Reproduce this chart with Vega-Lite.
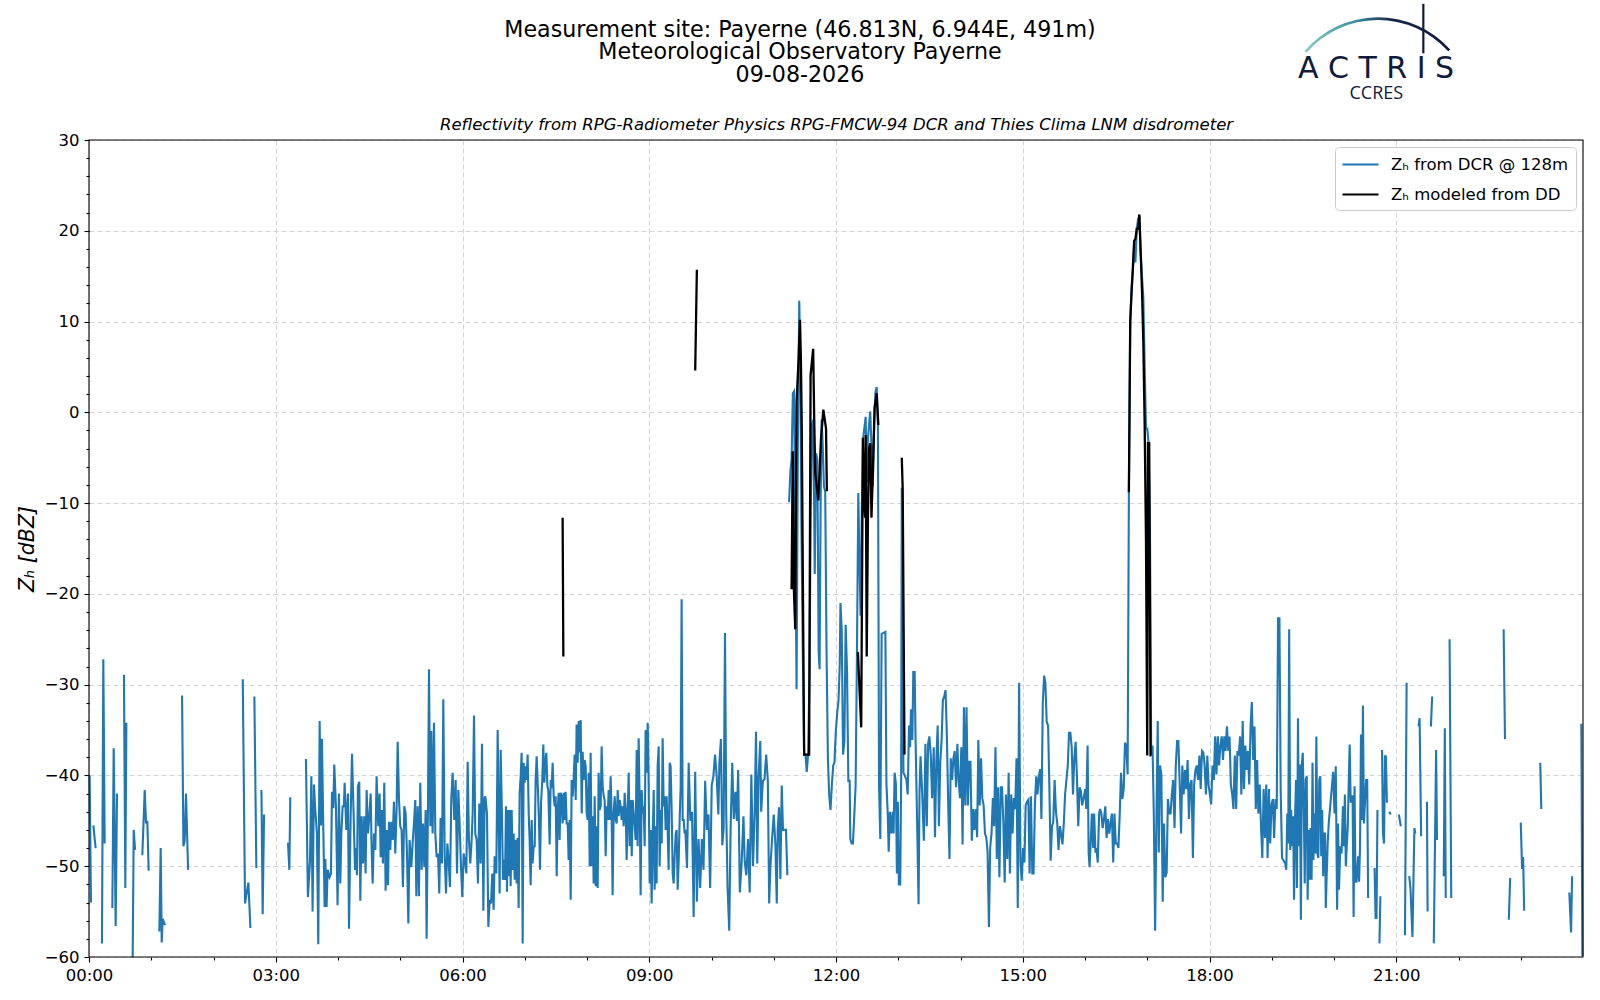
{
"$schema": "https://vega.github.io/schema/vega-lite/v6.json",
"autosize": {"type": "none"},
"width": 1494,
"height": 817,
"padding": {"left": 89, "top": 140, "right": 17, "bottom": 43},
"background": "white",
"config": {
 "font": "DejaVu Sans",
 "view": {"stroke": null},
 "axis": {"labelFont": "DejaVu Sans", "labelFontSize": 16.5, "labelColor": "black", "labelFlush": false, "tickColor": "black", "tickWidth": 1.1, "titleFont": "DejaVu Sans", "titleColor": "black", "titleFontWeight": "normal", "gridColor": "#d4d4d4", "gridDash": [5, 3], "gridWidth": 1},
 "legend": {"orient": "top-right", "offset": 7, "padding": 7, "strokeColor": "#cccccc", "fillColor": "white", "cornerRadius": 4, "labelFontSize": 16.5, "labelFont": "DejaVu Sans", "labelColor": "black", "labelLimit": 400, "symbolType": "M-2,0H2", "symbolSize": 324, "symbolStrokeWidth": 2.2, "symbolOffset": 8, "rowPadding": 11, "labelOffset": 20}
},
"datasets": {
 "dcr": [
{"m":0.6,"z":-40},{"m":1.9,"z":-54},{"m":2.5,"z":null},
{"m":4.2,"z":-45.5},{"m":6.4,"z":-48},{"m":7,"z":null},
{"m":12.5,"z":-58.5},{"m":13.8,"z":-27.2},{"m":15.1,"z":-47.5},{"m":16,"z":null},
{"m":22.5,"z":-54.6},{"m":23.8,"z":-37},{"m":25.7,"z":-56.6},{"m":27,"z":-42},{"m":28,"z":null},
{"m":33.7,"z":-28.9},{"m":35,"z":-52.4},{"m":36,"z":-34.2},{"m":37,"z":null},
{"m":42.1,"z":-60},{"m":43.1,"z":-46},{"m":44.4,"z":-48.2},{"m":45,"z":null},
{"m":51.4,"z":-48.8},{"m":53.7,"z":-41.6},{"m":55,"z":-45.3},{"m":56.2,"z":-45},{"m":57.5,"z":-50.5},{"m":58,"z":null},
{"m":67.8,"z":-57.2},{"m":69.1,"z":-48},{"m":70.1,"z":-58.4},{"m":71,"z":-55.8},{"m":73.3,"z":-56.5},{"m":74,"z":null},
{"m":89.7,"z":-31.2},{"m":91,"z":-47.8},{"m":92.2,"z":-47.2},{"m":93.5,"z":-42},{"m":95.5,"z":-50.4},{"m":96,"z":null},
{"m":148.2,"z":-29.4},{"m":150.4,"z":-54.1},{"m":153.6,"z":-51.8},{"m":155.6,"z":-56.8},{"m":156,"z":null},
{"m":159.4,"z":-31.3},{"m":161.3,"z":-50.2},{"m":162,"z":null},
{"m":166.2,"z":-41.6},{"m":167.4,"z":-55.3},{"m":168.7,"z":-44.3},{"m":169,"z":null},
{"m":191.8,"z":-47.4},{"m":193.1,"z":-50.4},{"m":194,"z":-42.4},{"m":195,"z":null},
{"m":209.1,"z":-38.2},{"m":211.0,"z":-53.4},{"m":213.0,"z":-49.5},{"m":214.3,"z":-40.1},{"m":215.5,"z":-55},{"m":216.8,"z":-41},{"m":218.1,"z":-43.8},{"m":219.7,"z":-46.4},{"m":221.0,"z":-58.6},{"m":222.3,"z":-34},{"m":223.6,"z":-45.5},{"m":224.5,"z":-36},{"m":225.8,"z":-45.6},{"m":227.1,"z":-54.5},{"m":227.8,"z":-49.2},{"m":229.0,"z":-54.5},{"m":230.0,"z":-50.4},{"m":231.9,"z":-51.2},{"m":233.2,"z":-50.8},{"m":234.2,"z":-41.8},{"m":235.5,"z":-43.6},{"m":236.4,"z":-38.8},{"m":238.0,"z":-43.4},{"m":239.6,"z":-54.3},{"m":240.9,"z":-42},{"m":242.2,"z":-51.9},{"m":243.2,"z":-46.4},{"m":244.5,"z":-43.4},{"m":245.7,"z":-43.4},{"m":246.4,"z":-40.8},{"m":248.0,"z":-46},{"m":249.6,"z":-42},{"m":250.6,"z":-56.9},{"m":252.2,"z":-44.5},{"m":253.5,"z":-37.6},{"m":255.1,"z":-44.5},{"m":256.4,"z":-50.4},{"m":257.3,"z":-48},{"m":258.3,"z":-51},{"m":259.2,"z":-41.2},{"m":260.5,"z":-40.7},{"m":261.5,"z":-53.8},{"m":262.8,"z":-44.5},{"m":264.1,"z":-49.7},{"m":265.3,"z":-44.5},{"m":266.6,"z":-50.8},{"m":267.6,"z":-41.6},{"m":268.9,"z":-46.4},{"m":270.2,"z":-44.5},{"m":271.5,"z":-42},{"m":272.4,"z":-48},{"m":273.4,"z":-51.9},{"m":274.7,"z":-46.4},{"m":276.0,"z":-48.2},{"m":277.2,"z":-40.1},{"m":278.8,"z":-45.6},{"m":280.1,"z":-42},{"m":281.1,"z":-49},{"m":282.1,"z":-43.8},{"m":283.3,"z":-49.7},{"m":284.6,"z":-40.8},{"m":285.9,"z":-52.7},{"m":287.2,"z":-46},{"m":288.2,"z":-52.1},{"m":289.1,"z":-45.1},{"m":290.4,"z":-48.2},{"m":291.4,"z":-45.1},{"m":292.7,"z":-47.1},{"m":293.9,"z":-42.9},{"m":295.2,"z":-48.6},{"m":296.5,"z":-43.6},{"m":297.5,"z":-36.3},{"m":298.8,"z":-42.7},{"m":300.0,"z":-45.6},{"m":301.3,"z":-46},{"m":302.6,"z":-52.3},{"m":303.9,"z":-43.4},{"m":305.2,"z":-44.2},{"m":306.5,"z":-48.6},{"m":307.8,"z":-56.3},{"m":309.0,"z":-47.1},{"m":310.7,"z":-50.1},{"m":311.9,"z":-47.5},{"m":313.2,"z":-45.3},{"m":314.5,"z":-42.7},{"m":315.5,"z":-53.3},{"m":316.8,"z":-43.4},{"m":318.0,"z":-53.3},{"m":319.3,"z":-40.8},{"m":320.6,"z":-50.4},{"m":321.9,"z":-45.3},{"m":323.2,"z":-50.1},{"m":324.5,"z":-43.8},{"m":325.4,"z":-58},{"m":326.7,"z":-43.8},{"m":327.7,"z":-28.3},{"m":329.0,"z":-45.6},{"m":329.9,"z":-35.1},{"m":331.2,"z":-46.4},{"m":332.5,"z":-34.2},{"m":333.8,"z":-46.4},{"m":335.1,"z":-49},{"m":336.4,"z":-48.6},{"m":337.6,"z":-53},{"m":338.9,"z":-44.7},{"m":340.2,"z":-49.7},{"m":341.5,"z":-31.6},{"m":342.8,"z":-48.6},{"m":344.1,"z":-53},{"m":345.4,"z":-47.5},{"m":346.6,"z":-49.3},{"m":347.9,"z":-52.3},{"m":349.2,"z":-42.5},{"m":350.5,"z":-39.7},{"m":352.1,"z":-44.9},{"m":353.4,"z":-40.5},{"m":354.7,"z":-50.8},{"m":356.0,"z":-41.6},{"m":357.2,"z":-45.3},{"m":358.5,"z":-49.9},{"m":359.8,"z":-53.4},{"m":361.1,"z":-48.6},{"m":362.4,"z":-49.5},{"m":363.7,"z":-50.8},{"m":365.0,"z":-38.5},{"m":366.2,"z":-47.1},{"m":367.5,"z":-49.7},{"m":368.8,"z":-47.1},{"m":369.8,"z":-44.2},{"m":371.1,"z":-33.4},{"m":372.3,"z":-46.4},{"m":373.6,"z":-47.1},{"m":374.9,"z":-51.9},{"m":376.2,"z":-43.1},{"m":377.5,"z":-49.7},{"m":378.8,"z":-36.5},{"m":380.1,"z":-54.9},{"m":381.3,"z":-42.5},
{"m":382.0,"z":-42.3},{"m":383.6,"z":-44.2},{"m":384.9,"z":-56.7},{"m":386.2,"z":-53.7},{"m":387.5,"z":-54.1},{"m":388.7,"z":-50.8},{"m":390.0,"z":-54.8},{"m":391.0,"z":-48.9},{"m":392.6,"z":-50.8},{"m":393.9,"z":-35},{"m":394.9,"z":-44.9},{"m":395.8,"z":-53},{"m":396.8,"z":-37.2},{"m":398.1,"z":-44.9},{"m":399.0,"z":-51.5},{"m":400.0,"z":-49.3},{"m":401.0,"z":-51.5},{"m":401.9,"z":-43.4},{"m":402.9,"z":-52.8},{"m":403.5,"z":-43.8},{"m":404.5,"z":-51.1},{"m":405.5,"z":-43.8},{"m":406.4,"z":-52.2},{"m":407.4,"z":-43.8},{"m":408.3,"z":-50.4},{"m":409.3,"z":-46.4},{"m":410.3,"z":-51.5},{"m":411.2,"z":-47.1},{"m":412.2,"z":-51.9},{"m":413.2,"z":-46.9},{"m":414.1,"z":-54.6},{"m":415.1,"z":-41.9},{"m":416.1,"z":-40.1},{"m":417.0,"z":-37.5},{"m":418.0,"z":-58.5},{"m":418.9,"z":-38.6},{"m":419.9,"z":-40.8},{"m":420.9,"z":-39},{"m":421.8,"z":-40.5},{"m":422.8,"z":-37.7},{"m":423.8,"z":-44.2},{"m":424.7,"z":-47.1},{"m":425.7,"z":-52.1},{"m":426.7,"z":-44.9},{"m":427.6,"z":-49.7},{"m":428.6,"z":-47.8},{"m":429.6,"z":-47.8},{"m":430.5,"z":-40.5},{"m":431.5,"z":-37.9},{"m":432.8,"z":-41.9},{"m":433.7,"z":-44.9},{"m":434.7,"z":-50.4},{"m":435.7,"z":-43},{"m":436.9,"z":-40.5},{"m":437.9,"z":-36.6},{"m":438.9,"z":-40.8},{"m":439.8,"z":-38.6},{"m":440.8,"z":-37.5},{"m":441.8,"z":-41.2},{"m":442.7,"z":-41.6},{"m":444.0,"z":-47.6},{"m":445.0,"z":-40.5},{"m":445.9,"z":-41.4},{"m":446.9,"z":-38.6},{"m":447.9,"z":-42.3},{"m":448.8,"z":-43.4},{"m":449.8,"z":-42.3},{"m":450.8,"z":-51.1},{"m":451.7,"z":-43.8},{"m":452.7,"z":-41.9},{"m":453.6,"z":-47.1},{"m":454.6,"z":-41.9},{"m":455.6,"z":-42.3},{"m":456.5,"z":-45.3},{"m":457.5,"z":-41.9},{"m":458.5,"z":-44.9},{"m":459.4,"z":-41.8},{"m":460.4,"z":-45.3},{"m":461.4,"z":-45.3},{"m":462.3,"z":-49.3},{"m":463.3,"z":-44.9},{"m":464.3,"z":-53.7},{"m":465.2,"z":-40.5},{"m":466.2,"z":-42.3},{"m":467.1,"z":-40.5},{"m":468.1,"z":-37.7},{"m":469.1,"z":-42.7},{"m":470.0,"z":-34.4},{"m":471.0,"z":-38.6},{"m":472.0,"z":-34},{"m":472.9,"z":-37.5},{"m":473.9,"z":-33.9},{"m":474.9,"z":-44.2},{"m":475.8,"z":-37.4},{"m":476.8,"z":-40.5},{"m":477.7,"z":-38.3},{"m":478.7,"z":-39},{"m":479.7,"z":-44.2},{"m":480.6,"z":-44.9},{"m":481.6,"z":-39.7},{"m":482.6,"z":-50},{"m":483.5,"z":-37.5},{"m":484.5,"z":-50},{"m":485.5,"z":-44.5},{"m":486.4,"z":-51.9},{"m":487.4,"z":-42.3},{"m":488.4,"z":-52.2},{"m":489.3,"z":-45.6},{"m":490.3,"z":-52.4},{"m":491.2,"z":-39.7},{"m":492.2,"z":-43.8},{"m":493.2,"z":-43.4},{"m":494.1,"z":-36.8},{"m":495.1,"z":-41.2},{"m":496.1,"z":-42.3},{"m":497.0,"z":-42.7},{"m":498.0,"z":-48.9},{"m":499.0,"z":-43.4},{"m":499.9,"z":-44.9},{"m":500.9,"z":-41.6},{"m":501.8,"z":-44.9},{"m":502.8,"z":-40.1},{"m":503.8,"z":-44.9},{"m":504.7,"z":-53.2},{"m":505.7,"z":-44.2},{"m":506.7,"z":-42.3},{"m":507.6,"z":-44.9},{"m":508.6,"z":-45.3},{"m":509.6,"z":-41.6},{"m":510.5,"z":-44.5},{"m":511.5,"z":-42.7},{"m":512.4,"z":-43.4},{"m":513.4,"z":-44.9},{"m":514.4,"z":-43.4},{"m":515.3,"z":-45.6},{"m":516.3,"z":-41.9},{"m":517.3,"z":-43.8},{"m":518.2,"z":-49.3},{"m":519.2,"z":-44.2},{"m":520.2,"z":-39.7},{"m":521.1,"z":-47.8},{"m":522.1,"z":-42.7},{"m":523.1,"z":-48.9},{"m":524.0,"z":-42.7},{"m":525.0,"z":-44.2},{"m":525.9,"z":-45.6},{"m":526.9,"z":-47.1},{"m":527.9,"z":-37.2},{"m":528.8,"z":-47.8},{"m":529.8,"z":-35.9},{"m":530.8,"z":-43.4},{"m":531.7,"z":-53.2},{"m":532.7,"z":-41.6},{"m":533.7,"z":-44.2},{"m":534.6,"z":-43.4},{"m":535.6,"z":-47.8},{"m":536.5,"z":-35},{"m":537.5,"z":-39.7},{"m":538.5,"z":-34.2},{"m":539.4,"z":-40.5},{"m":540.4,"z":-51.9},{"m":541.4,"z":-46},{"m":542.3,"z":-54.1},{"m":543.3,"z":-47.1},{"m":544.3,"z":-41.6},{"m":545.2,"z":-52.6},{"m":546.2,"z":-45.6},{"m":547.1,"z":-51.9},{"m":548.1,"z":-39},{"m":549.1,"z":-36.8},{"m":550.0,"z":-50},{"m":551.0,"z":-43.8},{"m":552.0,"z":-47.5},{"m":552.9,"z":-35.9},{"m":553.9,"z":-43.4},{"m":554.9,"z":-42.3},{"m":555.8,"z":-46},{"m":556.8,"z":-42.3},{"m":557.8,"z":-46.4},{"m":558.7,"z":-50.4},{"m":559.7,"z":-38.6},{"m":560.6,"z":-39},{"m":561.6,"z":-43.8},{"m":562.6,"z":-50.8},{"m":563.5,"z":-51.9},{"m":564.5,"z":-48.9},{"m":565.5,"z":-46.4},{"m":566.4,"z":-46},{"m":567.4,"z":-52.6},{"m":568.4,"z":-49.3},{"m":569.3,"z":-44.9},{"m":570.3,"z":-41.2},{"m":571.2,"z":-20.6},{"m":572.2,"z":-44.9},{"m":573.2,"z":-44.9},{"m":574.1,"z":-46.4},
{"m":574.8,"z":-46},{"m":576.4,"z":-50.2},{"m":578.0,"z":-38.6},{"m":579.6,"z":-45},{"m":581.2,"z":-44},{"m":582.8,"z":-55.6},{"m":584.3,"z":-39.6},{"m":585.9,"z":-53.9},{"m":587.5,"z":-47},{"m":589.1,"z":-52.4},{"m":590.7,"z":-47},{"m":592.3,"z":-50.4},{"m":593.9,"z":-40.6},{"m":595.5,"z":-46},{"m":597.1,"z":-44.3},{"m":598.7,"z":-52.4},{"m":600.2,"z":-41.1},{"m":601.8,"z":-40.1},{"m":603.4,"z":-37.7},{"m":605.0,"z":-40.1},{"m":606.6,"z":-44.3},{"m":607.6,"z":-38.6},{"m":609.1,"z":-36},{"m":610.4,"z":-47.7},{"m":611.7,"z":-45.8},{"m":613.0,"z":-24.3},{"m":614.2,"z":-44},{"m":615.5,"z":-52.4},{"m":617.1,"z":-57.1},{"m":618.4,"z":-46},{"m":620.0,"z":-38.6},{"m":621.5,"z":-44.8},{"m":623.1,"z":-41.8},{"m":624.4,"z":-45},{"m":625.7,"z":-39.4},{"m":627.3,"z":-52.9},{"m":628.9,"z":-50},{"m":630.8,"z":-44.5},{"m":632.0,"z":-49.5},{"m":633.6,"z":-51},{"m":635.2,"z":-47},{"m":636.8,"z":-52.9},{"m":638.4,"z":-39.9},{"m":640.0,"z":-50},{"m":641.6,"z":-44},{"m":642.9,"z":-35.2},{"m":644.1,"z":-49.7},{"m":645.4,"z":-40.1},{"m":647.0,"z":-36.2},{"m":647.9,"z":-44},{"m":649.5,"z":-40.6},{"m":651.1,"z":-40.4},{"m":652.7,"z":-37.7},{"m":654.3,"z":-40.6},{"m":655.6,"z":-54.1},{"m":656.8,"z":-50},{"m":658.4,"z":-47},{"m":660.0,"z":-44.3},{"m":661.6,"z":-47.7},{"m":662.9,"z":-54.1},{"m":663.8,"z":-46},{"m":665.1,"z":-43.5},{"m":666.4,"z":-51.4},{"m":667.7,"z":-41.1},{"m":668.9,"z":-46},{"m":670.2,"z":-46},{"m":671.8,"z":-46},{"m":673.1,"z":-51},{"m":673.8,"z":null},
{"m":674.8,"z":-9.9},{"m":676.0,"z":-6.5},{"m":677.2,"z":-5.2},{"m":678.4,"z":2.1},{"m":679.5,"z":2.3},{"m":680.7,"z":-11.6},{"m":682.0,"z":-30.5},{"m":683.2,"z":-3.8},{"m":684.6,"z":12.3},{"m":685.6,"z":5.1},{"m":686.7,"z":-12.6},{"m":688.0,"z":-26.4},{"m":689.3,"z":-37.7},{"m":690.6,"z":-37.7},{"m":691.8,"z":-39.6},{"m":693.1,"z":-37.7},{"m":694.4,"z":-29.3},{"m":695.6,"z":-11.6},{"m":696.9,"z":-1.3},{"m":698.2,"z":-0.8},{"m":699.5,"z":-17.8},{"m":700.7,"z":-4.5},{"m":702.0,"z":-5.2},{"m":703.3,"z":-26.4},{"m":704.2,"z":-28.3},{"m":705.2,"z":-9.7},{"m":706.1,"z":-0.8},{"m":707.1,"z":-3.3},{"m":708.4,"z":-8.2},{"m":709.6,"z":-8.7},{"m":710.9,"z":-26.4},{"m":712.2,"z":-38.2},{"m":713.4,"z":-42.1},{"m":714.7,"z":-43.8},{"m":716.0,"z":-41.1},{"m":717.3,"z":-38.9},{"m":718.5,"z":-38.6},{"m":719.8,"z":-35.2},{"m":721.1,"z":-33.2},{"m":722.4,"z":-31.8},{"m":723.6,"z":-27.8},{"m":724.3,"z":-21},{"m":725.5,"z":-23.9},{"m":726.8,"z":-37.7},{"m":728.1,"z":-36.2},{"m":729.3,"z":-23.4},{"m":730.6,"z":-28.3},{"m":731.9,"z":-40.6},{"m":733.2,"z":-40.6},{"m":733.8,"z":-47},{"m":735.1,"z":-47.5},{"m":736.3,"z":-47.5},{"m":737.6,"z":-44.5},{"m":738.9,"z":-41.1},{"m":740.2,"z":-26.4},{"m":741.5,"z":-8.9},{"m":742.6,"z":-16.5},{"m":743.7,"z":-22.4},{"m":744.9,"z":-10.6},{"m":746.2,"z":-2.8},{"m":748.6,"z":-0.5},{"m":749.6,"z":-7.7},{"m":750.8,"z":-2.8},{"m":753.0,"z":0.1},{"m":754.2,"z":-3.8},{"m":755.5,"z":-8.2},{"m":756.8,"z":-1},{"m":758.0,"z":2.2},{"m":759.2,"z":2.8},{"m":760.4,"z":-1.3},{"m":761.5,"z":-41.1},{"m":762.7,"z":-47},{"m":764.0,"z":-24.4},
{"m":767.6,"z":-24.2},{"m":768.6,"z":-40.9},{"m":769.8,"z":-44},{"m":770.8,"z":-48.4},{"m":772.0,"z":-44},{"m":773.3,"z":-46.4},{"m":774.6,"z":-44},{"m":775.5,"z":-46.4},{"m":776.5,"z":-39.7},{"m":777.7,"z":-40.9},{"m":778.7,"z":-50.8},{"m":779.6,"z":-42.9},{"m":780.6,"z":-52},{"m":781.9,"z":-52},{"m":782.8,"z":-40.1},{"m":783.4,"z":-8.3},{"m":785.0,"z":-39.7},{"m":786.6,"z":-40.1},{"m":787.9,"z":-40.5},{"m":789.1,"z":-42.1},{"m":790.4,"z":-34.5},{"m":791.4,"z":-36.9},{"m":792.3,"z":-32.7},{"m":793.6,"z":-36.1},{"m":794.5,"z":-28.6},{"m":795.8,"z":-28.6},{"m":796.7,"z":-36.1},{"m":798.0,"z":-44},{"m":799.6,"z":-54.2},{"m":800.5,"z":-41.7},{"m":801.5,"z":-37.9},{"m":803.1,"z":-42.1},{"m":804.7,"z":-47.2},{"m":806.2,"z":-36.5},{"m":807.5,"z":-45.6},{"m":808.8,"z":-36.5},{"m":810.0,"z":-35.7},{"m":811.3,"z":-37.7},{"m":812.6,"z":-42.5},{"m":814.2,"z":-36.9},{"m":815.4,"z":-46.8},{"m":816.7,"z":-38.5},{"m":818.0,"z":-34.5},{"m":819.2,"z":-45.6},{"m":820.5,"z":-38.5},{"m":821.8,"z":-36.1},{"m":823.0,"z":-31.7},{"m":824.3,"z":-31.3},{"m":825.6,"z":-30.6},{"m":826.8,"z":-35.3},{"m":828.1,"z":-42.9},{"m":829.4,"z":-49.2},{"m":830.6,"z":-38.1},{"m":831.9,"z":-40.5},{"m":833.2,"z":-38.1},{"m":834.4,"z":-37.3},{"m":835.7,"z":-41.3},{"m":837.0,"z":-36.5},{"m":838.2,"z":-40.5},{"m":839.5,"z":-42.5},{"m":840.8,"z":-36.9},{"m":842.0,"z":-47.6},{"m":843.3,"z":-32.5},{"m":844.6,"z":-43.3},{"m":845.8,"z":-32.5},{"m":847.1,"z":-43.3},{"m":848.4,"z":-38.5},{"m":849.6,"z":-38.5},{"m":850.9,"z":-47.2},{"m":852.2,"z":-43.7},{"m":853.4,"z":-46},{"m":854.7,"z":-43.7},{"m":856.0,"z":-46.8},{"m":857.2,"z":-36.1},{"m":858.5,"z":-43.3},{"m":859.8,"z":-38.1},{"m":861.0,"z":-42.5},{"m":862.3,"z":-43.3},{"m":863.6,"z":-46.4},{"m":864.8,"z":-46.8},{"m":866.1,"z":-48.4},{"m":867.4,"z":-56.7},{"m":868.6,"z":-48},{"m":869.9,"z":-46.4},{"m":871.2,"z":-42.5},{"m":872.4,"z":-45.6},{"m":873.7,"z":-36.9},{"m":875.0,"z":-49.2},{"m":876.2,"z":-41.3},{"m":877.5,"z":-51.2},{"m":878.8,"z":-41.3},{"m":880.0,"z":-41.3},{"m":881.3,"z":-45.2},{"m":882.6,"z":-51.8},{"m":883.8,"z":-42.1},{"m":885.1,"z":-49.2},{"m":886.4,"z":-39.7},{"m":887.6,"z":-50.8},{"m":888.9,"z":-42.1},{"m":890.2,"z":-46.4},{"m":891.4,"z":-42.5},{"m":892.7,"z":-43.7},{"m":894.0,"z":-38.1},{"m":895.2,"z":-54.6},{"m":896.5,"z":-29.8},{"m":897.8,"z":-49.6},{"m":899.0,"z":-51.6},{"m":900.3,"z":-48},{"m":901.6,"z":-49.6},{"m":902.8,"z":-43.3},{"m":904.1,"z":-42.9},{"m":905.4,"z":-42.7},{"m":906.6,"z":-50.8},{"m":907.9,"z":-42.3},{"m":909.2,"z":-50.8},{"m":910.4,"z":-50.8},{"m":911.7,"z":-43.3},{"m":913.0,"z":-40.1},{"m":914.2,"z":-42.1},{"m":915.5,"z":-40.1},{"m":916.8,"z":-39.3},{"m":918.0,"z":-44.8},{"m":919.3,"z":-32.1},{"m":920.6,"z":-29},{"m":921.8,"z":-29.8},{"m":923.1,"z":-34.1},{"m":924.4,"z":-34.5},{"m":925.6,"z":-40.9},{"m":926.9,"z":-49.4},{"m":928.2,"z":-45.6},{"m":929.4,"z":-45.2},{"m":930.7,"z":-40.5},{"m":932.0,"z":-44},{"m":933.2,"z":-45.2},{"m":934.5,"z":-48.2},{"m":935.8,"z":-45.6},{"m":937.0,"z":-46.4},{"m":938.3,"z":-47.6},{"m":939.6,"z":-45.2},{"m":940.8,"z":-42.1},{"m":942.1,"z":-40.5},{"m":943.4,"z":-38.9},{"m":944.6,"z":-35.3},{"m":945.9,"z":-35.3},{"m":947.2,"z":-36.9},{"m":948.4,"z":-42.1},{"m":949.7,"z":-38.1},{"m":951.0,"z":-36.3},{"m":952.2,"z":-40.1},{"m":953.5,"z":-45.6},{"m":954.8,"z":-41.3},{"m":956.0,"z":-41.7},{"m":957.3,"z":-43.3},
{"m":960.3,"z":-41.5},{"m":961.2,"z":-43.7},{"m":962.5,"z":-36.7},{"m":963.5,"z":-48.5},{"m":964.4,"z":-50.1},{"m":965.7,"z":-46.9},{"m":966.6,"z":-44.2},{"m":967.9,"z":-48},{"m":968.8,"z":-44.2},{"m":970.1,"z":-48.5},{"m":971.0,"z":-48},{"m":972.3,"z":-49.6},{"m":973.6,"z":-44.2},{"m":974.5,"z":-43.7},{"m":975.8,"z":-44.2},{"m":977.0,"z":-45.8},{"m":978.3,"z":-44.8},{"m":979.6,"z":-43.4},{"m":980.8,"z":-46.9},{"m":982.1,"z":-44.8},{"m":983.4,"z":-46.4},{"m":984.6,"z":-45.3},{"m":985.9,"z":-44.2},{"m":987.2,"z":-49.6},{"m":988.4,"z":-44.2},{"m":989.7,"z":-47.5},{"m":991.0,"z":-47.5},{"m":992.2,"z":-48},{"m":993.5,"z":-44.2},{"m":994.7,"z":-39.7},{"m":996.0,"z":-42.6},{"m":997.3,"z":-41.5},{"m":998.5,"z":-36.4},{"m":999.8,"z":-36.7},{"m":1001.1,"z":-39.9},{"m":1002.3,"z":-8.8},{"m":1003.6,"z":10},{"m":1004.9,"z":13.8},{"m":1006.1,"z":15.4},{"m":1007.4,"z":18.6},{"m":1008.6,"z":16.5},{"m":1009.9,"z":20.2},{"m":1011.2,"z":21.3},{"m":1012.4,"z":21.6},{"m":1013.7,"z":17.5},{"m":1015.0,"z":14.8},{"m":1016.2,"z":12.7},{"m":1017.5,"z":5.2},{"m":1018.8,"z":-1.8},{"m":1020.0,"z":-1.8},{"m":1021.3,"z":-3.4},{"m":1022.6,"z":-12},{"m":1023.8,"z":-37.8},{"m":1025.1,"z":-36.7},{"m":1026.3,"z":-44.2},{"m":1027.6,"z":-57.1},{"m":1028.9,"z":-44.2},{"m":1030.1,"z":-34},{"m":1031.1,"z":-48.5},{"m":1032.3,"z":-38.9},{"m":1033.6,"z":-39.9},{"m":1034.9,"z":-53.9},{"m":1036.1,"z":-45.3},{"m":1037.4,"z":-51.2},{"m":1038.7,"z":-50.7},{"m":1039.9,"z":-42.6},{"m":1041.2,"z":-44.2},{"m":1042.5,"z":-44.2},{"m":1043.7,"z":-42.1},{"m":1045.0,"z":-40.5},{"m":1046.3,"z":-45.8},{"m":1047.5,"z":-38.9},{"m":1048.8,"z":-36.2},{"m":1050.0,"z":-36.2},{"m":1051.3,"z":-41},{"m":1052.6,"z":-46.4},{"m":1053.8,"z":-38.9},{"m":1055.1,"z":-42.1},{"m":1056.4,"z":-39.4},{"m":1057.6,"z":-41.5},{"m":1058.9,"z":-38.3},{"m":1060.2,"z":-44.8},{"m":1061.4,"z":-41},{"m":1062.7,"z":-40.5},{"m":1064.0,"z":-49.1},{"m":1065.2,"z":-41},{"m":1066.5,"z":-39.4},{"m":1067.7,"z":-38.9},{"m":1069.0,"z":-40.5},{"m":1070.3,"z":-37.8},{"m":1071.5,"z":-41.5},{"m":1072.8,"z":-37.3},{"m":1074.1,"z":-37.5},{"m":1075.3,"z":-38.9},{"m":1076.6,"z":-42.1},{"m":1077.9,"z":-37.8},{"m":1079.1,"z":-41},{"m":1080.4,"z":-42.1},{"m":1081.6,"z":-43.2},{"m":1082.9,"z":-38.9},{"m":1084.2,"z":-40.5},{"m":1085.4,"z":-35.7},{"m":1086.7,"z":-39.9},{"m":1088.0,"z":-35.7},{"m":1089.2,"z":-38.9},{"m":1090.5,"z":-36.7},{"m":1091.8,"z":-35.7},{"m":1093.0,"z":-38.3},{"m":1094.3,"z":-35.7},{"m":1095.5,"z":-37.3},{"m":1096.8,"z":-34.6},{"m":1098.1,"z":-37.3},{"m":1099.3,"z":-35.7},{"m":1100.6,"z":-41},{"m":1101.9,"z":-42.1},{"m":1103.1,"z":-43.7},{"m":1104.4,"z":-37.8},{"m":1105.7,"z":-43.7},{"m":1106.9,"z":-37.3},{"m":1108.2,"z":-37.8},{"m":1109.5,"z":-35.7},{"m":1110.7,"z":-42.1},{"m":1112.0,"z":-34},{"m":1113.2,"z":-41.5},{"m":1114.5,"z":-36.7},{"m":1115.8,"z":-39.4},{"m":1117.0,"z":-37.3},{"m":1118.3,"z":-41},{"m":1119.6,"z":-34.6},{"m":1120.8,"z":-31.9},{"m":1122.1,"z":-38.3},{"m":1123.4,"z":-34.6},{"m":1124.6,"z":-43.7},{"m":1125.9,"z":-38.3},{"m":1127.1,"z":-44.2},{"m":1128.4,"z":-41},{"m":1129.7,"z":-45.8},{"m":1130.9,"z":-49.1},{"m":1132.2,"z":-41.5},{"m":1133.5,"z":-46.9},{"m":1134.7,"z":-41},{"m":1136.0,"z":-49.1},{"m":1137.3,"z":-41.5},{"m":1138.5,"z":-47.5},{"m":1139.8,"z":-43.2},{"m":1141.1,"z":-42.6},{"m":1142.3,"z":-46.9},{"m":1143.6,"z":-42.6},{"m":1144.8,"z":-43.7},{"m":1146.1,"z":-22.7},{"m":1147.4,"z":-22.7},{"m":1148.6,"z":-41.5},{"m":1149.9,"z":-49.1},
{"m":1153.1,"z":-49.7},{"m":1154.0,"z":-50.4},{"m":1155.0,"z":-44.2},{"m":1155.9,"z":-47.5},{"m":1156.8,"z":-23.9},{"m":1157.8,"z":-48.2},{"m":1158.7,"z":-43.8},{"m":1159.6,"z":-47.8},{"m":1160.6,"z":-44.5},{"m":1161.5,"z":-53.7},{"m":1162.5,"z":-44.5},{"m":1163.4,"z":-40.5},{"m":1164.3,"z":-52.4},{"m":1165.3,"z":-33.7},{"m":1166.2,"z":-47.8},{"m":1167.1,"z":-38.8},{"m":1168.1,"z":-55.9},{"m":1169.0,"z":-38.8},{"m":1169.9,"z":-37.5},{"m":1170.9,"z":-43.8},{"m":1171.8,"z":-51.9},{"m":1172.7,"z":-40.5},{"m":1173.7,"z":-40.1},{"m":1174.6,"z":-53.7},{"m":1175.5,"z":-46},{"m":1176.5,"z":-51.5},{"m":1177.4,"z":-45.8},{"m":1178.4,"z":-51.5},{"m":1179.3,"z":-38.6},{"m":1180.2,"z":-49.3},{"m":1181.2,"z":-44.2},{"m":1182.1,"z":-48.6},{"m":1183.0,"z":-35.7},{"m":1184.0,"z":-48.6},{"m":1184.9,"z":-49.1},{"m":1185.8,"z":-40.5},{"m":1186.8,"z":-40.1},{"m":1187.7,"z":-48.9},{"m":1188.6,"z":-43.8},{"m":1189.6,"z":-51.1},{"m":1190.5,"z":-46.4},{"m":1191.4,"z":-46.4},{"m":1192.1,"z":-54.6},{"m":1193.0,"z":-50.8},{"m":1193.9,"z":-47.5},{"m":1194.9,"z":-45.3},{"m":1199.2,"z":-39.6},{"m":1200.5,"z":-44.2},{"m":1201.7,"z":-39},{"m":1203.0,"z":-54.8},{"m":1203.9,"z":-45.3},{"m":1204.8,"z":-52.6},{"m":1206.1,"z":-47.8},{"m":1207.3,"z":-48.6},{"m":1208.6,"z":-43.4},{"m":1209.5,"z":-47.8},{"m":1210.5,"z":-42.1},{"m":1211.4,"z":-50},{"m":1212.3,"z":-47.8},{"m":1213.3,"z":-45.6},{"m":1214.2,"z":-40.8},{"m":1215.1,"z":-36.6},{"m":1216.1,"z":-43},{"m":1217.0,"z":-42.3},{"m":1217.9,"z":-42.3},{"m":1218.9,"z":-55.6},{"m":1219.8,"z":-41.2},{"m":1220.7,"z":-51.7},{"m":1221.7,"z":-51.7},{"m":1223.2,"z":-48.9},{"m":1224.2,"z":-51.7},{"m":1225.1,"z":-47.8},{"m":1226.0,"z":-35.5},{"m":1227.0,"z":-44.9},{"m":1227.9,"z":-32.3},{"m":1228.8,"z":-45.3},{"m":1231.0,"z":-40.5},{"m":1232.0,"z":-40.5},{"m":1232.9,"z":-53.5},{"m":1234,"z":null},
{"m":1239.1,"z":-50.2},{"m":1240.1,"z":-55.7},{"m":1241.0,"z":-55.7},{"m":1241.9,"z":-43.8},{"m":1242.5,"z":null},
{"m":1243.8,"z":-58.5},{"m":1244.7,"z":-53.3},{"m":1245.3,"z":null},
{"m":1246.3,"z":-37.2},{"m":1247.2,"z":-46.4},{"m":1248.2,"z":-47.5},{"m":1249.1,"z":-37.9},{"m":1250.0,"z":-37.9},{"m":1251.0,"z":-43},{"m":1252,"z":null},
{"m":1253.2,"z":-44},{"m":1254.7,"z":-44.3},{"m":1256,"z":null},
{"m":1262.5,"z":-44.3},{"m":1264.4,"z":-45.6},{"m":1265,"z":null},
{"m":1268.4,"z":-57.6},{"m":1270.0,"z":-29.8},{"m":1271,"z":null},
{"m":1272.5,"z":-51.1},{"m":1273.7,"z":-52.4},{"m":1275.6,"z":-57.8},{"m":1277.5,"z":-45.8},{"m":1278.4,"z":-46.4},{"m":1279,"z":null},
{"m":1281.5,"z":-34.6},{"m":1282.5,"z":-33.7},{"m":1284.0,"z":-46.7},{"m":1285,"z":null},
{"m":1289.6,"z":-42.9},{"m":1290.2,"z":-55},{"m":1291,"z":null},
{"m":1293.4,"z":-34.6},{"m":1294.6,"z":-31.3},{"m":1295.3,"z":null},
{"m":1296.2,"z":-58.5},{"m":1298.4,"z":-37.2},{"m":1299.3,"z":-47.1},{"m":1300,"z":null},
{"m":1305.8,"z":-51.1},{"m":1306.8,"z":-34.8},{"m":1307.7,"z":-53.5},{"m":1308.5,"z":null},
{"m":1311.4,"z":-25},{"m":1313.0,"z":-53.5},{"m":1314,"z":null},
{"m":1363.5,"z":-23.9},{"m":1364.8,"z":-36},{"m":1365.5,"z":null},
{"m":1368.5,"z":-55.9},{"m":1369.8,"z":-51.3},{"m":1370.5,"z":null},
{"m":1380,"z":-45.2},{"m":1381.3,"z":-50.3},{"m":1382.3,"z":-49},{"m":1383.3,"z":-54.9},{"m":1384,"z":null},
{"m":1398.8,"z":-38.6},{"m":1399.8,"z":-43.7},{"m":1400.5,"z":null},
{"m":1426.8,"z":-52.9},{"m":1428.5,"z":-57.3},{"m":1429.5,"z":-51.1},{"m":1430.5,"z":null},
{"m":1438.4,"z":-34.3},{"m":1439.4,"z":-59.9}
 ],
 "dd": [
{"m":456.5,"z":-11.6},{"m":457.2,"z":-26.9},{"m":458,"z":null},
{"m":584.3,"z":4.6},{"m":585.9,"z":15.7},{"m":587,"z":null},
{"m":677.2,"z":-19.5},{"m":678.3,"z":-4.3},{"m":679.4,"z":-19.5},{"m":680.7,"z":-23.9},{"m":682.0,"z":1.2},{"m":683.6,"z":5},{"m":685.3,"z":10.2},{"m":686.2,"z":5.6},{"m":687.0,"z":-1.8},{"m":689.3,"z":-37.7},{"m":692.5,"z":-37.7},{"m":694.1,"z":-37.7},{"m":695.5,"z":4.1},{"m":698.0,"z":7.0},{"m":699.0,"z":-0.8},{"m":700.0,"z":-6.7},{"m":703.0,"z":-9.7},{"m":705.5,"z":-3},{"m":707.8,"z":0.3},{"m":710.4,"z":-1.8},{"m":711.2,"z":-8.7},{"m":712,"z":null},
{"m":741.1,"z":-26.4},{"m":744.3,"z":-34.7},{"m":745.9,"z":-2.8},{"m":747.2,"z":-9.7},{"m":748.1,"z":-11.6},{"m":748.6,"z":-2.5},{"m":749.6,"z":-26.9},{"m":750.8,"z":-11.6},{"m":751.8,"z":-4},{"m":753.0,"z":-3.4},{"m":754.2,"z":-11.6},{"m":755.5,"z":-6.7},{"m":757.2,"z":0.5},{"m":759.2,"z":2.1},{"m":760.8,"z":-1.4},{"m":761.5,"z":null},
{"m":783.4,"z":-5},{"m":784.3,"z":-8.5},{"m":786.0,"z":-37.7},{"m":787,"z":null},
{"m":1002.3,"z":-8.8},{"m":1003.6,"z":10},{"m":1004.9,"z":13.2},{"m":1006.1,"z":15.9},{"m":1007.4,"z":18.9},{"m":1008.6,"z":19.1},{"m":1009.9,"z":20.2},{"m":1011.2,"z":20.2},{"m":1012.4,"z":21.8},{"m":1013.7,"z":17.5},{"m":1015.0,"z":13.2},{"m":1016.2,"z":7.9},{"m":1017.5,"z":-1.3},{"m":1018.8,"z":-14.2},{"m":1020.0,"z":-37.8},{"m":1020.7,"z":-3.4},{"m":1021.9,"z":-3.4},{"m":1023.2,"z":-37.8},{"m":1023.8,"z":-37.8}
 ]
},
"layer": [
 {
  "data": {"name": "dcr"},
  "mark": {"type": "line", "strokeWidth": 2.1, "invalid": "break-paths-show-domains"},
  "encoding": {
   "x": {"field": "m", "type": "quantitative", "scale": {"domain": [0, 1440], "nice": false, "zero": false},
    "axis": {"orient": "bottom", "values": [0, 180, 360, 540, 720, 900, 1080, 1260], "labelExpr": "(datum.value < 600 ? '0' : '') + floor(datum.value / 60) + ':00'", "title": null, "grid": true, "tickSize": 5, "labelPadding": 5, "domain": false}},
   "y": {"field": "z", "type": "quantitative", "scale": {"domain": [-60, 30], "nice": false, "zero": false},
    "axis": {"orient": "left", "values": [-60, -50, -40, -30, -20, -10, 0, 10, 20, 30], "title": "Zₕ [dBZ]", "titleFontStyle": "italic", "titleFontSize": 20.5, "titlePadding": 7, "grid": true, "tickSize": 5, "labelPadding": 5, "domain": false}},
   "color": {"datum": "Zₕ from DCR @ 128m", "type": "nominal", "scale": {"domain": ["Zₕ from DCR @ 128m", "Zₕ modeled from DD"], "range": ["#1f77b4", "#000000"]}, "legend": {"title": null}}
  }
 },
 {
  "data": {"name": "dd"},
  "mark": {"type": "line", "strokeWidth": 2.3, "invalid": "break-paths-show-domains"},
  "encoding": {
   "x": {"field": "m", "type": "quantitative",
    "axis": {"orient": "top", "title": "Reflectivity from RPG-Radiometer Physics RPG-FMCW-94 DCR and Thies Clima LNM disdrometer", "titleFontStyle": "italic", "titleFontSize": 16.5, "titlePadding": 8, "labels": false, "ticks": false, "domain": false, "grid": false}},
   "y": {"field": "z", "type": "quantitative",
    "axis": {"orient": "left", "values": [-58, -56, -54, -52, -48, -46, -44, -42, -38, -36, -34, -32, -28, -26, -24, -22, -18, -16, -14, -12, -8, -6, -4, -2, 2, 4, 6, 8, 12, 14, 16, 18, 22, 24, 26, 28], "labels": false, "tickSize": 3, "grid": false, "domain": false, "title": null}},
   "color": {"datum": "Zₕ modeled from DD", "type": "nominal"}
  }
 },
 {
  "data": {"values": [{}]},
  "mark": {"type": "rect", "fill": null, "fillOpacity": 0, "stroke": "black", "strokeWidth": 1.1},
  "encoding": {
   "x": {"datum": 0, "type": "quantitative",
    "axis": {"orient": "bottom", "values": [60, 120, 240, 300, 420, 480, 600, 660, 780, 840, 960, 1020, 1140, 1200, 1320, 1380], "labels": false, "tickSize": 3, "grid": false, "domain": false, "title": null}},
   "x2": {"datum": 1440},
   "y": {"datum": -60, "type": "quantitative", "axis": null},
   "y2": {"datum": 30}
  }
 },
 {
  "data": {"values": [{}]},
  "mark": {"type": "text", "text": ["Measurement site: Payerne (46.813N, 6.944E, 491m)", "Meteorological Observatory Payerne", "09-08-2026"], "align": "center", "baseline": "alphabetic", "fontSize": 22.2, "lineHeight": 22.5, "font": "DejaVu Sans", "color": "black"},
  "encoding": {
   "x": {"datum": 685.3, "type": "quantitative", "axis": null},
   "y": {"datum": 41.38, "type": "quantitative", "axis": null}
  }
 },
 {
  "data": {"values": [{}]},
  "mark": {"type": "arc", "theta": -0.86, "theta2": 0.84, "radius": 97, "radius2": 94.3, "fill": {"gradient": "linear", "x1": 0, "y1": 0, "x2": 1, "y2": 0, "stops": [{"offset": 0, "color": "#86cfc8"}, {"offset": 0.35, "color": "#3b8d9c"}, {"offset": 0.6, "color": "#16284a"}, {"offset": 1, "color": "#101a3c"}]}},
  "encoding": {
   "x": {"datum": 1242.4, "type": "quantitative", "axis": null},
   "y": {"datum": 32.83, "type": "quantitative", "axis": null}
  }
 },
 {
  "data": {"values": [{}]},
  "mark": {"type": "rule", "strokeWidth": 2.2, "color": "#101a3c"},
  "encoding": {
   "x": {"datum": 1286.1, "type": "quantitative", "axis": null},
   "y": {"datum": 45.0, "type": "quantitative", "axis": null},
   "y2": {"datum": 39.55}
  }
 },
 {
  "data": {"values": [{}]},
  "mark": {"type": "text", "text": "A C T R I S", "align": "center", "baseline": "alphabetic", "fontSize": 30, "font": "DejaVu Sans", "color": "#0f1a3d"},
  "encoding": {
   "x": {"datum": 1240.5, "type": "quantitative", "axis": null},
   "y": {"datum": 36.8, "type": "quantitative", "axis": null}
  }
 },
 {
  "data": {"values": [{}]},
  "mark": {"type": "text", "text": "CCRES", "align": "center", "baseline": "alphabetic", "fontSize": 18, "font": "Open Sans", "color": "#0f1a3d"},
  "encoding": {
   "x": {"datum": 1240.8, "type": "quantitative", "axis": null},
   "y": {"datum": 34.52, "type": "quantitative", "axis": null}
  }
 }
],
"resolve": {"axis": {"x": "independent", "y": "independent"}}
}
